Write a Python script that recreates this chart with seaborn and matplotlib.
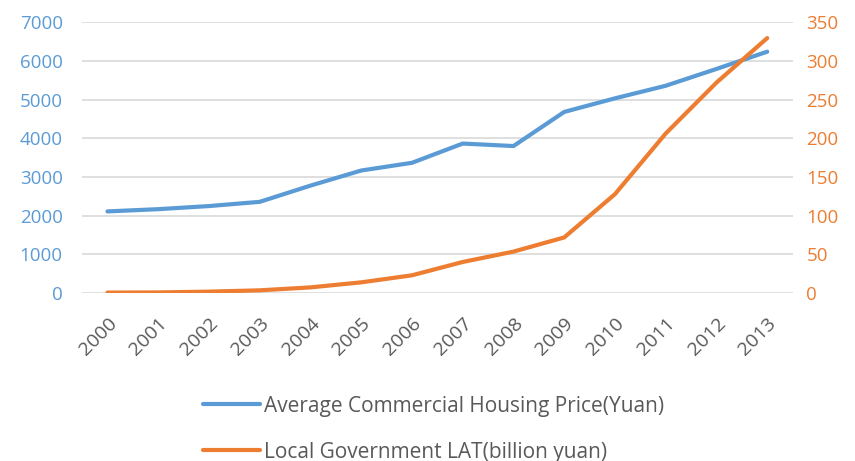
import pandas as pd
import seaborn as sns
import matplotlib.pyplot as plt

years = [2000, 2001, 2002, 2003, 2004, 2005, 2006, 2007, 2008, 2009, 2010, 2011, 2012, 2013]
price = [2112, 2170, 2250, 2359, 2778, 3168, 3367, 3864, 3800, 4681, 5032, 5357, 5791, 6237]
lat = [0.8, 1.0, 2.0, 3.7, 7.5, 14.0, 23.1, 40.3, 53.7, 72.0, 127.9, 206.2, 271.9, 329.4]

df = pd.DataFrame({'year': [str(y) for y in years], 'price': price, 'lat': lat})

blue = '#5B9BD5'
orange = '#ED7D31'
grey = '#595959'

sns.set_style('white')
plt.rcParams['font.family'] = ['Open Sans', 'DejaVu Sans']

fig = plt.figure(figsize=(8.55, 4.61), dpi=100)
ax = fig.add_axes([0.096, 0.364, 0.831, 0.588])
ax2 = ax.twinx()

sns.lineplot(data=df, x='year', y='price', ax=ax, color=blue, linewidth=3,
             solid_capstyle='round', solid_joinstyle='round',
             label='Average Commercial Housing Price(Yuan)', legend=False, sort=False)
sns.lineplot(data=df, x='year', y='lat', ax=ax2, color=orange, linewidth=3,
             solid_capstyle='round', solid_joinstyle='round',
             label='Local Government LAT(billion yuan)', legend=False, sort=False)

ax.set_ylim(0, 7000)
ax.set_yticks(range(0, 7001, 1000))
ax2.set_ylim(0, 350)
ax2.set_yticks(range(0, 351, 50))
ax.set_xlim(-0.5, len(years) - 0.5)

ax.grid(axis='y', color='#D9D9D9', linewidth=1.2)
ax.set_axisbelow(True)
for a in (ax, ax2):
    for s in a.spines.values():
        s.set_visible(False)
    a.set_xlabel('')
    a.set_ylabel('')
    a.tick_params(length=0)

ax.tick_params(axis='y', labelcolor=blue, labelsize=13.5, pad=14)
ax2.tick_params(axis='y', labelcolor=orange, labelsize=13.5, pad=10)
ax.tick_params(axis='x', labelcolor=grey, labelsize=14, pad=15)
plt.setp(ax.get_xticklabels(), rotation=45, ha='right', va='top', rotation_mode='anchor')

h1, l1 = ax.get_legend_handles_labels()
h2, l2 = ax2.get_legend_handles_labels()
leg = fig.legend(h1 + h2, l1 + l2, loc='upper left', bbox_to_anchor=(0.228, 0.16),
                 frameon=False, fontsize=15, handlelength=2.7, handletextpad=0.2,
                 labelspacing=1.2, labelcolor=grey, borderaxespad=0)

fig.savefig('out.png', dpi=100)
